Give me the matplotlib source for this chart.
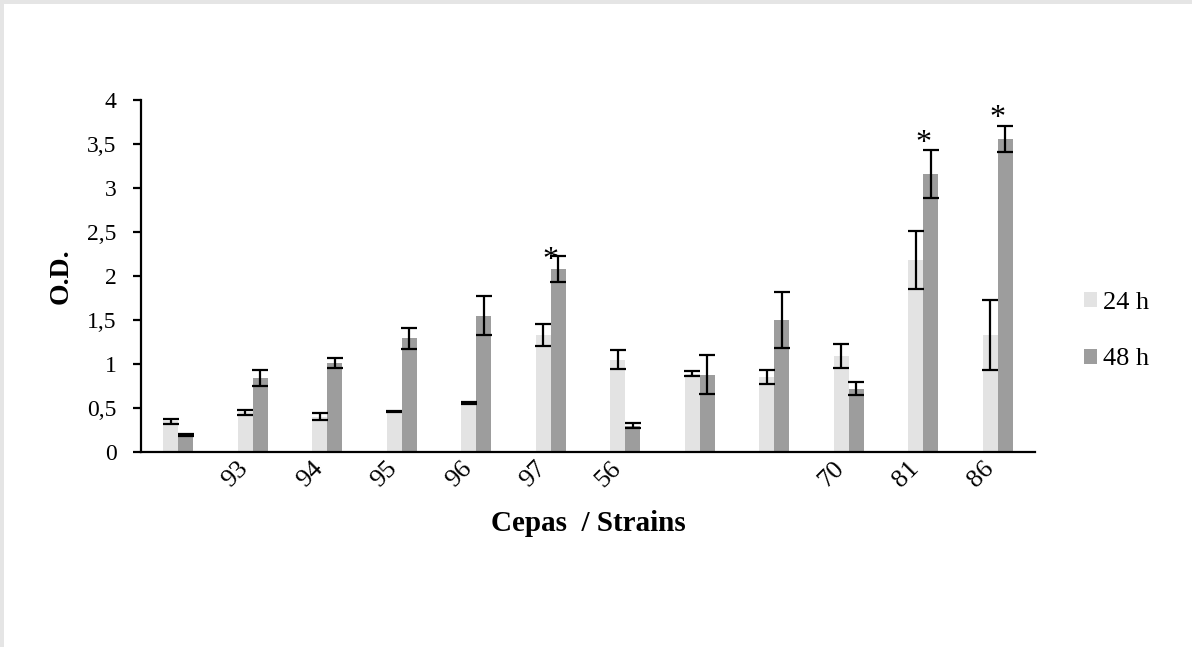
import numpy as np
import matplotlib
matplotlib.use('Agg')
import matplotlib.pyplot as plt
from matplotlib.patches import Rectangle

plt.rcParams['font.family'] = ['Liberation Serif', 'DejaVu Serif']

# data
strains = ['', '93', '94', '95', '96', '97', '56', '', '', '70', '81', '86']
od_24 = [0.35, 0.45, 0.40, 0.46, 0.56, 1.33, 1.05, 0.89, 0.85, 1.09, 2.18, 1.33]
err_24 = [0.03, 0.03, 0.04, 0.01, 0.01, 0.12, 0.11, 0.03, 0.08, 0.14, 0.33, 0.40]
od_48 = [0.19, 0.84, 1.01, 1.29, 1.55, 2.08, 0.30, 0.88, 1.50, 0.72, 3.16, 3.56]
err_48 = [0.01, 0.09, 0.06, 0.12, 0.22, 0.15, 0.03, 0.22, 0.32, 0.07, 0.27, 0.15]
# significance marks (*) : group index, height of the mark
star_idx = [5, 10, 11]
star_y = [2.09, 3.42, 3.71]

y_ticks = [0, 0.5, 1, 1.5, 2, 2.5, 3, 3.5, 4]
y_ticklabels = ['0', '0,5', '1', '1,5', '2', '2,5', '3', '3,5', '4']

c24 = '#e3e3e3'
c48 = '#9d9d9d'

fig = plt.figure(figsize=(11.92, 6.47), dpi=100)
fig.patch.set_facecolor('#e5e5e5')
fig.patches.append(Rectangle((4 / 1192, 0), 1, 1 - 4 / 647, transform=fig.transFigure,
                             facecolor='white', edgecolor='none', zorder=-10))

ax = fig.add_axes([141 / 1192, 1 - 452 / 647, (1035 - 141) / 1192, (452 - 100) / 647])
ax.set_facecolor('none')
ax.set_zorder(5)

x = np.arange(len(strains))
w = 0.2
ekw = dict(ecolor='black', elinewidth=1.6, capsize=5.5, capthick=1.6)
ax.bar(x - w / 2, od_24, w, yerr=err_24, color=c24, label='24 h', error_kw=ekw)
ax.bar(x + w / 2, od_48, w, yerr=err_48, color=c48, label='48 h', error_kw=ekw)

for i, yy in zip(star_idx, star_y):
    ax.text(x[i], yy, '*', ha='center', va='baseline', fontsize=23)

ax.set_xlim(-0.5, len(strains) - 0.5)
ax.set_ylim(0, 4)
ax.set_yticks(y_ticks)
ax.set_yticklabels(y_ticklabels)
ax.set_xticks(x)
ax.set_xticklabels(strains, rotation=45, ha='right', va='top')

for s in ['top', 'right']:
    ax.spines[s].set_visible(False)
for s in ['left', 'bottom']:
    ax.spines[s].set_linewidth(1.6)
ax.tick_params(axis='y', direction='out', length=5.5, width=1.6, labelsize=17, pad=12)
ax.tick_params(axis='x', length=0, labelsize=19, pad=4)

ax.set_ylabel('O.D.', fontsize=20, fontweight='bold', labelpad=10)
ax.set_xlabel('Cepas  / Strains', fontsize=21, fontweight='bold', labelpad=13)

leg = fig.legend(loc='center left', bbox_to_anchor=(0.898, 0.488), frameon=False,
                 fontsize=19, handlelength=0.5, handleheight=0.5, handletextpad=0.25,
                 labelspacing=1.3, borderpad=0)
leg.set_zorder(6)

fig.savefig('out.png', dpi=100)
